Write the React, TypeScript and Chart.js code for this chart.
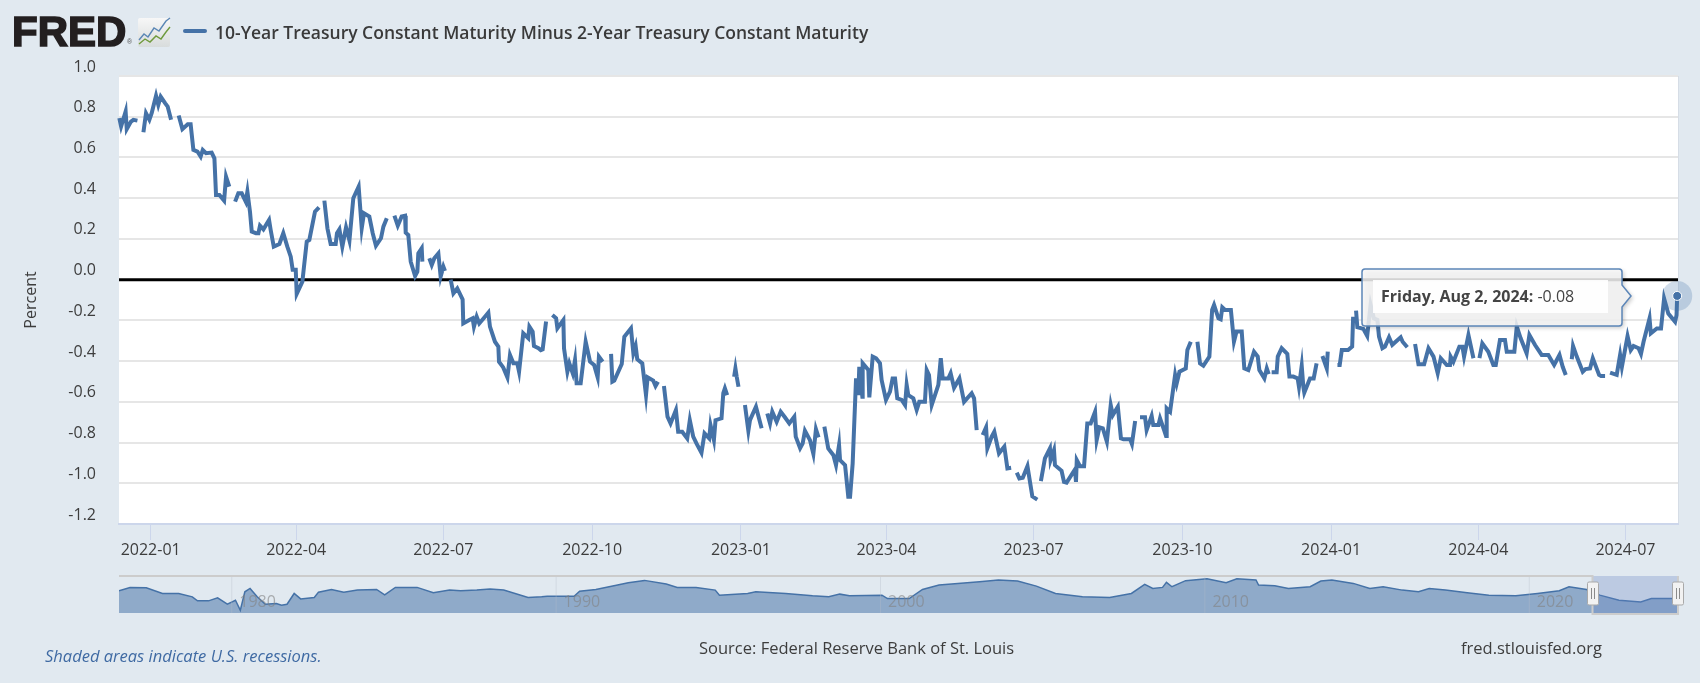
import React, { useEffect, useRef } from "react";
import { Chart, registerables } from "chart.js";

Chart.register(...registerables);

// Days since 2022-01-01 (null value = gap in the series, as in the published data)
const spreadDays: number[] = [
  -19.4, -18.3, -15.5, -14.8, -12.2, -10.7, -8.2, -6,
  -4.5, -2.9, -0.8, 0.6, 3.3, 4.7, 6.2, 8.9, 10.5, 12.6, 15,
  17.3, 19.6, 22.9, 24.7, 26.4, 28.9, 30.9, 32.2, 34.2, 37.7, 39.4, 40.4, 42.5, 45.4, 46.6, 48.6, 50,
  52.2, 54.2, 56.3, 58.8, 59.8, 61.4, 62.5, 65.1, 66.6, 67.6, 69.7, 73.2, 74.2, 76.1, 79.6, 82, 84.5, 86.6, 87.8, 89.7, 90.3, 93.8, 94.8, 96.5, 98.1, 101.6, 104.1, 106,
  107.4, 109.3, 111.3, 114.4, 115.2, 116.7, 118.5, 120.8, 122.9, 125.3, 128.6, 130.5, 131.9, 135.2, 137.3, 139.3, 142.4, 143.9, 146, 148,
  150.7, 152.8, 155.2, 157.3, 157.7, 159.3, 160.8, 163.5, 164.9, 165.5, 167.6, 168, 170,
  172.3, 173.8, 175.4, 177.9, 179.3, 181, 182, 184,
  185.5, 187.2, 189.6, 192.9, 193.3, 197, 199.1, 199.9, 201.6, 203.2, 206.7, 208.8, 209.8, 212.9, 215, 215.4, 218, 220.6, 222.2, 224.3, 226.7, 227.8, 230.4, 233.5, 234.2, 236.2, 237, 239.8, 241.2, 242.4, 244.5, 246,
  248.4, 250.7, 251.5, 255.2, 255.6, 257.7, 258.9, 261, 262.4, 263.4, 265.9, 269, 271.7, 274.2, 276.4, 277.2, 279.5, 282,
  284.7, 285.5, 286.7, 291.3, 292.9, 297, 298.5, 299.9, 300.9, 304, 306.3, 307.3, 310.8, 312.2, 313.7, 315,
  317.4, 319.6, 321.5, 324.8, 326.2, 328.7, 331.8, 333.4, 335.5, 337.5, 340.6, 342.5, 345.4, 346.2, 348.3, 349.3, 353, 354.1, 355.1, 356.5, 358,
  360.8, 361.6, 362.4, 363.5, 365,
  367.5, 369.6, 370.6, 374.3, 377.8, 380,
  381.3, 383, 384.4, 387.1, 389.6, 392.2, 394.9, 398, 398.9, 401.6, 403.2, 404.6, 407.7, 409.8, 411.4, 413, 415,
  416.6, 419, 422.2, 423.8, 425.7, 426.3, 429.4, 431.4, 432.5, 434.1, 436.2, 437.6, 438.2, 440.1, 440.3, 443.8, 444.4, 446.5, 448.6, 451, 452, 454.7, 457.2, 458.8, 460.3, 461.7, 464.4, 466.5, 467.5, 468.5, 471.6, 473.7, 475.3, 478.8, 479.9, 481.3, 483, 487.1, 488.6, 489.8, 493.3, 494.7, 496.8, 500.1, 503, 507.7, 509.2, 510.8, 512,
  514.5, 516.6, 517.4, 520.1, 521.7, 524.6, 527.9, 529.8, 532.1, 534,
  535.6, 537.2, 539.3, 542.2, 545.2, 548.3, 549,
  550.5, 553, 556.1, 556.5, 558.6, 559.2, 563.3, 564.8, 566.4, 571.6, 572.2, 572.7, 574.7, 577.2, 579.2, 581.3, 584, 585, 586.7, 588.8, 591.3, 593.7, 595, 598.1, 600, 601.6, 605.7, 606.8, 608.8, 610,
  611.8, 614.9, 615.9, 619, 620, 623.2, 624.2, 626.7, 627.9, 628.3, 630.4, 633.5, 634.5, 636.2, 640.1, 641.1, 643.2, 645,
  647.3, 648.9, 651, 654.7, 656.4, 657.6, 660.3, 661.7, 662.7, 664.4, 668, 669.9, 671.5, 674.7, 676.3, 678.8, 682.3, 684.6, 685.6, 688.7, 690.2, 691.4, 692.3,
  693.2, 696.3, 697, 699.4, 702.9, 704.2, 706.6, 709.3, 710.1, 711.8, 712.8, 713.4, 716.9, 719.2, 721, 723,
  724.6, 727.3, 727.9, 731,
  733.9, 735.3, 736.6, 740.5, 743, 743.6, 744.5,
  745.4, 746.2, 749.9, 752.3, 754.4, 756.4, 758.6, 759.6, 761.7, 763.3, 765.8, 767.8, 773, 774.2, 777.1, 779,
  781.9, 784, 787.5, 790.2, 793.3, 795.9, 797.8, 801.5, 803.5, 803.9, 805.6, 809.3, 811.2, 812.2, 814.9, 818, 820,
  821.7, 823.5, 827.2, 830.3, 831.8, 834.4, 837.5, 838.6, 843.3, 844.8, 847.2, 850.9, 852.6, 856.1, 860.2, 864.3, 867.9, 871.2, 873.2, 875.1, 877,
  878.8, 879.6, 881.9, 885.6, 887.3, 890.1, 891.8, 895.7, 896.9, 899.4, 901,
  902.5, 906.6, 908.7, 909.8, 913.3, 915.3, 917, 920.1, 921.6, 923.2, 926.9, 927.7, 931.4, 934, 935.9, 938.5, 942.7, 943.6, 944,
];

const spreadValues: (number | null)[] = [
  0.793, 0.752, 0.826, 0.739, 0.776, 0.785, 0.781, null,
  0.724, 0.817, 0.785, 0.817, 0.903, 0.858, 0.899, 0.867, 0.85, 0.785, null,
  0.806, 0.739, 0.763, 0.763, 0.637, 0.629, 0.604, 0.637, 0.621, 0.624, 0.596, 0.416, 0.416, 0.388, 0.506, 0.457, null,
  0.383, 0.424, 0.424, 0.383, 0.432, 0.334, 0.236, 0.228, 0.228, 0.265, 0.247, 0.293, 0.244, 0.162, 0.175, 0.228, 0.162, 0.113, 0.048, 0.048, -0.07, -0.01, 0.064, 0.187, 0.195, 0.334, 0.355, null,
  0.388, 0.252, 0.175, 0.175, 0.228, 0.247, 0.162, 0.257, 0.192, 0.4, 0.457, 0.252, 0.326, 0.31, 0.228, 0.167, 0.203, 0.26, 0.301, null,
  0.314, 0.265, 0.31, 0.314, 0.231, 0.219, 0.088, 0.018, 0.039, 0.129, 0.154, 0.088, null,
  0.105, 0.072, 0.105, 0.129, 0.015, 0.064, 0.043, null,
  0, -0.067, -0.043, -0.097, -0.215, -0.198, -0.19, -0.231, -0.182, -0.215, -0.182, -0.162, -0.231, -0.305, -0.329, -0.403, -0.431, -0.48, -0.37, -0.411, -0.411, -0.452, -0.264, -0.288, -0.231, -0.256, -0.326, -0.337, -0.346, -0.342, -0.206, null,
  -0.174, -0.19, -0.239, -0.198, -0.337, -0.452, -0.411, -0.46, -0.395, -0.509, -0.509, -0.305, -0.403, -0.419, -0.48, -0.378, -0.403, null,
  -0.365, -0.501, -0.496, -0.414, -0.28, -0.239, -0.362, -0.326, -0.391, -0.411, -0.567, -0.48, -0.496, -0.522, -0.501, null,
  -0.522, -0.673, -0.706, -0.64, -0.747, -0.747, -0.78, -0.69, -0.771, -0.804, -0.85, -0.755, -0.78, -0.714, -0.788, -0.69, -0.681, -0.558, -0.534, -0.567, null,
  -0.477, -0.436, -0.477, -0.526, null,
  -0.616, -0.742, -0.69, -0.624, -0.73, null,
  -0.657, -0.706, -0.649, -0.698, -0.649, -0.676, -0.706, -0.673, -0.771, -0.828, -0.804, -0.742, -0.788, -0.856, -0.735, -0.775, null,
  -0.722, -0.829, -0.862, -0.911, -0.812, -0.886, -0.911, -1.066, -1.066, -0.903, -0.485, -0.567, -0.428, -0.575, -0.411, -0.444, -0.578, -0.378, -0.386, -0.411, -0.493, -0.591, -0.55, -0.485, -0.485, -0.583, -0.591, -0.616, -0.517, -0.567, -0.583, -0.64, -0.6, -0.6, -0.444, -0.468, -0.616, -0.517, -0.386, -0.485, -0.485, -0.46, -0.531, -0.485, -0.6, -0.558, -0.583, -0.739, null,
  -0.763, -0.725, -0.829, -0.771, -0.747, -0.853, -0.82, -0.927, -0.924, null,
  -0.948, -0.976, -0.973, -0.916, -1.064, -1.08, null,
  -0.989, -0.878, -0.829, -0.886, -0.837, -0.911, -0.939, -0.993, -0.997, -0.932, -0.993, -0.886, -0.916, -0.916, -0.706, -0.706, -0.649, -0.788, -0.725, -0.73, -0.796, -0.616, -0.665, -0.624, -0.779, -0.784, -0.784, -0.807, -0.694, null,
  -0.676, -0.676, -0.739, -0.669, -0.714, -0.714, -0.681, -0.739, -0.768, -0.632, -0.649, -0.468, -0.509, -0.452, -0.436, -0.346, -0.305, null,
  -0.305, -0.411, -0.423, -0.378, -0.149, -0.124, -0.19, -0.195, -0.136, -0.149, -0.149, -0.305, -0.255, -0.255, -0.436, -0.444, -0.354, -0.378, -0.444, -0.485, -0.436, -0.464, null,
  -0.455, -0.455, -0.378, -0.337, -0.365, -0.476, -0.476, -0.485, -0.526, -0.423, -0.526, -0.555, -0.485, -0.485, -0.411, null,
  -0.375, -0.436, -0.354, null,
  -0.419, -0.419, -0.346, -0.346, -0.329, -0.182, null,
  -0.152, -0.234, -0.242, -0.277, -0.124, -0.19, -0.198, -0.28, -0.337, -0.329, -0.283, -0.32, -0.283, -0.305, -0.332, null,
  -0.316, -0.416, -0.416, -0.337, -0.378, -0.46, -0.386, -0.419, -0.419, -0.378, -0.403, -0.329, -0.329, -0.378, -0.272, -0.386, null,
  -0.386, -0.313, -0.354, -0.419, -0.419, -0.296, -0.296, -0.354, -0.354, -0.23, -0.288, -0.362, -0.272, -0.321, -0.37, -0.37, -0.419, -0.37, -0.428, -0.468, null,
  -0.391, -0.326, -0.378, -0.452, -0.439, -0.436, -0.386, -0.468, -0.473, -0.473, null,
  -0.457, -0.468, -0.37, -0.428, -0.277, -0.346, -0.326, -0.337, -0.365, -0.305, -0.19, -0.264, -0.24, -0.24, -0.092, -0.166, -0.207, -0.174, -0.08,
];

const quarterDays = [0, 90, 181, 273, 365, 455, 546, 638, 730, 821, 912];
const quarterLabels = ["2022-01", "2022-04", "2022-07", "2022-10", "2023-01", "2023-04", "2023-07", "2023-10", "2024-01", "2024-04", "2024-07"];
const zeroLineDays = [-19.6, 944.5];
const zeroLineValues = [0, 0];

const navigatorYears = [
  1976.54, 1976.88, 1977.38, 1977.88, 1978.38, 1978.8, 1978.96, 1979.3, 1979.58, 1979.88, 1980.13, 1980.28, 1980.42, 1980.58, 1980.8, 1981.05, 1981.39, 1981.55, 1981.72, 1981.94,
  1982.14, 1982.56, 1982.69, 1983.09, 1983.47, 1983.89, 1984.48, 1984.73, 1985.06, 1985.4, 1985.73, 1986.23, 1986.73, 1987.07, 1987.57, 1987.98, 1988.4, 1989.15, 1989.57, 1989.74,
  1990.57, 1990.74, 1991.24, 1991.91, 1992.24, 1992.74, 1993.41, 1993.75, 1994.33, 1994.92, 1995.05, 1995.92, 1996.17, 1997.09, 1997.92, 1998.42, 1998.76, 1999.06, 2000.06, 2000.23,
  2000.9, 2001.31, 2001.82, 2002.4, 2003.07, 2003.65, 2004.24, 2004.82, 2005.41, 2006.24, 2007.08, 2007.75, 2008.16, 2008.41, 2008.71, 2008.83, 2009, 2009.42, 2010.08, 2010.67,
  2011, 2011.59, 2011.67, 2012.17, 2012.59, 2013.26, 2013.59, 2013.93, 2014.59, 2015.1, 2015.51, 2016.1, 2016.6, 2016.93, 2017.43, 2018.1, 2018.77, 2019.6, 2020.27, 2020.94,
  2021.24, 2021.78, 2022.19, 2022.78, 2023.45, 2023.78, 2024.58,
];
const navigatorValues = [
  0.84, 1.4, 1.34, 0.39, 0.39, -0.17, -0.84, -0.84, -0.34, -1.4, -0.73, -2.41, 0.67, 1.23, -0.17, -1.4, -1.29, -1.57, -1.4, 0.39,
  -0.51, -0.28, 0.61, 1.06, 0.61, 0.95, 1.06, 0.17, 1.4, 1.4, 1.4, 0.5, 0.95, 0.84, 0.95, 1.12, 0.95, -0.28, -0.17, -0.06,
  -0.06, 0.78, 1.06, 1.79, 2.18, 2.57, 1.96, 1.4, 1.4, 0.95, 0.11, 0.39, 0.67, 0.39, 0, -0.17, 0.28, 0, 0.11, -0.45,
  -0.45, 1.06, 1.79, 2.07, 2.35, 2.63, 2.46, 1.62, 0.39, -0.17, -0.28, 0.39, 1.9, 1.23, 1.4, 2.24, 1.51, 2.52, 2.85, 2.18,
  2.85, 2.63, 1.79, 1.68, 1.23, 1.51, 2.46, 2.63, 2.07, 1.23, 1.51, 0.95, 0.67, 1.23, 0.95, 0.5, 0.11, 0, 0.39, 0.84,
  1.51, 1.06, 0.11, -0.73, -1.01, -0.45, -0.45,
];
const navigatorDecades = [1980, 1990, 2000, 2010, 2020];

const seriesName = "10-Year Treasury Constant Maturity Minus 2-Year Treasury Constant Maturity";
const tooltipDate = "Friday, Aug 2, 2024:";
const tooltipValue = "-0.08";

const BLUE = "#4572A7";
const BG = "#e1e9f0";
const FONT = '"Open Sans", sans-serif';

const abs = (left: number, top: number): React.CSSProperties => ({ position: "absolute", left, top, whiteSpace: "nowrap" });

export default function App() {
  const mainRef = useRef<HTMLCanvasElement>(null);
  const navRef = useRef<HTMLCanvasElement>(null);

  useEffect(() => {
    const lastIndex = spreadDays.length - 1;

    const backdrop = {
      id: "backdrop",
      beforeDraw(chart: any) {
        const { ctx, chartArea: a } = chart;
        ctx.save();
        ctx.fillStyle = "#ffffff";
        ctx.fillRect(a.left, a.top, a.right - a.left, a.bottom - a.top);
        ctx.strokeStyle = "#d6dde6";
        ctx.lineWidth = 1;
        ctx.beginPath();
        ctx.moveTo(a.right + 0.5, a.top);
        ctx.lineTo(a.right + 0.5, a.bottom);
        ctx.stroke();
        ctx.restore();
      },
    };

    const tooltipBox = {
      id: "tooltipBox",
      afterDraw(chart: any) {
        const { ctx } = chart;
        const pt = chart.getDatasetMeta(1).data[lastIndex];
        const px = pt.x;
        const py = pt.y;
        ctx.save();
        // halo goes beneath the marker, so repaint marker above it
        ctx.fillStyle = "rgba(69,114,167,0.25)";
        ctx.beginPath();
        ctx.arc(px, py, 15, 0, Math.PI * 2);
        ctx.fill();
        ctx.fillStyle = BLUE;
        ctx.strokeStyle = "#ffffff";
        ctx.lineWidth = 1;
        ctx.beginPath();
        ctx.arc(px, py, 4.5, 0, Math.PI * 2);
        ctx.fill();
        ctx.stroke();

        const L = 1362, T = 269, R = 1622, B = 326, tipX = 1631, tipY = py;
        ctx.shadowColor = "rgba(0,0,0,0.25)";
        ctx.shadowBlur = 4;
        ctx.shadowOffsetX = 2;
        ctx.shadowOffsetY = 2;
        ctx.beginPath();
        ctx.moveTo(L + 3, T);
        ctx.lineTo(R - 3, T);
        ctx.quadraticCurveTo(R, T, R, T + 3);
        ctx.lineTo(R, tipY - 11);
        ctx.lineTo(tipX, tipY);
        ctx.lineTo(R, tipY + 11);
        ctx.lineTo(R, B - 3);
        ctx.quadraticCurveTo(R, B, R - 3, B);
        ctx.lineTo(L + 3, B);
        ctx.quadraticCurveTo(L, B, L, B - 3);
        ctx.lineTo(L, T + 3);
        ctx.quadraticCurveTo(L, T, L + 3, T);
        ctx.closePath();
        ctx.fillStyle = "rgba(247,247,247,0.85)";
        ctx.fill();
        ctx.shadowColor = "transparent";
        ctx.shadowBlur = 0;
        ctx.shadowOffsetX = 0;
        ctx.shadowOffsetY = 0;
        ctx.strokeStyle = "#5c86b8";
        ctx.lineWidth = 1.5;
        ctx.stroke();
        ctx.fillStyle = "rgba(255,255,255,0.9)";
        ctx.fillRect(1373, 280, 235, 33);
        ctx.textBaseline = "middle";
        ctx.textAlign = "left";
        ctx.font = `bold 16px ${FONT}`;
        ctx.fillStyle = "#444444";
        ctx.fillText(tooltipDate, 1381, 297);
        const w = ctx.measureText(tooltipDate + " ").width;
        ctx.font = `16px ${FONT}`;
        ctx.fillText(tooltipValue, 1381 + w, 297);
        ctx.restore();
      },
    };

    const main = new Chart(mainRef.current!, {
      type: "line",
      data: {
        datasets: [
          {
            label: "Zero line",
            data: zeroLineDays.map((x, i) => ({ x, y: zeroLineValues[i] })),
            borderColor: "#000000",
            borderWidth: 3,
            pointRadius: 0,
            order: 2,
          },
          {
            label: seriesName,
            data: spreadDays.map((x, i) => ({ x, y: spreadValues[i] })),
            borderColor: BLUE,
            borderWidth: 4,
            tension: 0,
            spanGaps: false,
            pointRadius: 0,
            clip: false,
            order: 1,
          },
        ],
      },
      plugins: [backdrop, tooltipBox],
      options: {
        animation: false,
        responsive: false,
        events: [],
        layout: { padding: { top: 76, right: 22, left: 0, bottom: 0 } },
        plugins: { legend: { display: false }, tooltip: { enabled: false }, title: { display: false } },
        scales: {
          x: {
            type: "linear",
            min: zeroLineDays[0],
            max: zeroLineDays[1],
            afterBuildTicks: (s: any) => {
              s.ticks = quarterDays.map((value) => ({ value }));
            },
            afterFit: (s: any) => {
              s.height = 159;
            },
            border: { display: true, color: "#ccd6eb", width: 2 },
            grid: { drawOnChartArea: false, drawTicks: true, tickLength: 16, tickColor: "#ccd6eb", tickWidth: 1 },
            ticks: {
              autoSkip: false,
              maxRotation: 0,
              padding: 1,
              color: "#3d3d3d",
              font: { family: FONT, size: 16 },
              callback: (v: any) => quarterLabels[quarterDays.indexOf(v)] ?? "",
            },
          },
          y: {
            type: "linear",
            min: -1.2,
            max: 1.0,
            afterFit: (s: any) => {
              s.width = 119;
            },
            border: { display: false },
            grid: { color: "#e6e6e6", lineWidth: 2, drawTicks: false, tickLength: 0 },
            title: {
              display: true,
              text: "Percent",
              color: "#3d3d3d",
              font: { family: FONT, size: 16 },
              padding: { top: 22, bottom: 0 },
            },
            ticks: {
              stepSize: 0.2,
              padding: 23,
              labelOffset: -9,
              color: "#3d3d3d",
              font: { family: FONT, size: 16 },
              callback: (v: any) => Number(v).toFixed(1),
            },
          },
        },
      },
    } as any);

    const navOverlay = {
      id: "navOverlay",
      afterDatasetsDraw(chart: any) {
        const { ctx, chartArea: a, scales } = chart;
        ctx.save();
        ctx.textAlign = "left";
        ctx.textBaseline = "middle";
        ctx.font = `16px ${FONT}`;
        navigatorDecades.forEach((year) => {
          const x = scales.x.getPixelForValue(year);
          ctx.strokeStyle = "rgba(180,190,200,0.35)";
          ctx.lineWidth = 1;
          ctx.beginPath();
          ctx.moveTo(x + 0.5, a.top);
          ctx.lineTo(x + 0.5, a.bottom);
          ctx.stroke();
          ctx.fillStyle = "rgba(130,130,130,0.6)";
          ctx.fillText(String(year), x + 8, 42);
        });
        const sel = 1592.5;
        ctx.fillStyle = "rgba(102,133,194,0.3)";
        ctx.fillRect(sel, a.top, a.right - sel, a.bottom - a.top);
        ctx.strokeStyle = "#cccccc";
        ctx.lineWidth = 2;
        ctx.beginPath();
        ctx.moveTo(a.left, a.top);
        ctx.lineTo(sel, a.top);
        ctx.lineTo(sel, a.bottom + 1);
        ctx.lineTo(a.right, a.bottom + 1);
        ctx.lineTo(a.right, a.top);
        ctx.stroke();
        [sel, a.right].forEach((hx) => {
          const x = Math.round(hx);
          ctx.fillStyle = "#f2f2f2";
          ctx.strokeStyle = "#a9a9a9";
          ctx.lineWidth = 1;
          ctx.beginPath();
          ctx.roundRect(x - 5.5, 22, 11, 23, 1.5);
          ctx.fill();
          ctx.stroke();
          ctx.strokeStyle = "#8a8a8a";
          ctx.beginPath();
          ctx.moveTo(x - 1.5, 28);
          ctx.lineTo(x - 1.5, 39);
          ctx.moveTo(x + 1.5, 28);
          ctx.lineTo(x + 1.5, 39);
          ctx.stroke();
        });
        ctx.restore();
      },
    };

    const nav = new Chart(navRef.current!, {
      type: "line",
      data: {
        datasets: [
          {
            label: "Navigator",
            data: navigatorYears.map((x, i) => ({ x, y: navigatorValues[i] })),
            borderColor: BLUE,
            borderWidth: 1.5,
            backgroundColor: "rgba(69,114,167,0.53)",
            fill: "start",
            pointRadius: 0,
            tension: 0,
          },
        ],
      },
      plugins: [navOverlay],
      options: {
        animation: false,
        responsive: false,
        events: [],
        layout: { padding: { top: 16, left: 119, right: 22, bottom: 17 } },
        plugins: { legend: { display: false }, tooltip: { enabled: false } },
        scales: {
          x: { type: "linear", display: false, min: 1976.54, max: 2024.6 },
          y: { type: "linear", display: false, min: -2.86, max: 3.3 },
        },
      },
    } as any);

    return () => {
      main.destroy();
      nav.destroy();
    };
  }, []);

  return (
    <div style={{ position: "absolute", left: 0, top: 0, width: 1700, height: 683, background: BG, overflow: "hidden", fontFamily: FONT, color: "#333" }}>
      <canvas ref={mainRef} width={1700} height={683} style={{ position: "absolute", left: 0, top: 0, width: 1700, height: 683 }} />
      <canvas ref={navRef} width={1700} height={70} style={{ position: "absolute", left: 0, top: 560, width: 1700, height: 70 }} />

      <span style={{ ...abs(12, 6), fontFamily: '"Liberation Sans", sans-serif', fontWeight: 700, fontSize: 42, lineHeight: "52px", color: "#231f20", WebkitTextStroke: "1.6px #231f20" }}>FRED</span>
      <span style={{ ...abs(127, 38), fontFamily: '"Liberation Sans", sans-serif', fontSize: 7, color: "#555" }}>®</span>
      <svg style={{ position: "absolute", left: 138, top: 17 }} width={33} height={31}>
        <defs>
          <linearGradient id="icn" x1="0" y1="0" x2="0" y2="1">
            <stop offset="0" stopColor="#f7f7f7" />
            <stop offset="1" stopColor="#d8dcdc" />
          </linearGradient>
        </defs>
        <rect x={0} y={1} width={32} height={29} rx={2} fill="url(#icn)" />
        <polyline points="1,23 6,17 10,20 16,11 21,14 28,4 32,1" fill="none" stroke="#5b87b5" strokeWidth={1.4} />
        <polyline points="1,27 7,22 12,25 18,19 23,22 28,15 32,10" fill="none" stroke="#6f9a3c" strokeWidth={1.4} />
      </svg>
      <div style={{ position: "absolute", left: 183, top: 29, width: 24, height: 4, borderRadius: 2, background: BLUE }} />
      <span style={{ ...abs(215, 20), fontWeight: 600, fontSize: 17.5, lineHeight: "24px", color: "#3a3a3a" }}>{seriesName}</span>

      <span style={{ ...abs(45, 644), fontStyle: "italic", fontSize: 16.5, lineHeight: "24px", color: "#3f6aa3" }}>Shaded areas indicate U.S. recessions.</span>
      <span style={{ ...abs(699, 636), fontSize: 16.5, lineHeight: "24px", color: "#3d3d3d" }}>Source: Federal Reserve Bank of St. Louis</span>
      <span style={{ ...abs(1461, 636), fontSize: 16.5, lineHeight: "24px", color: "#3d3d3d" }}>fred.stlouisfed.org</span>
    </div>
  );
}
